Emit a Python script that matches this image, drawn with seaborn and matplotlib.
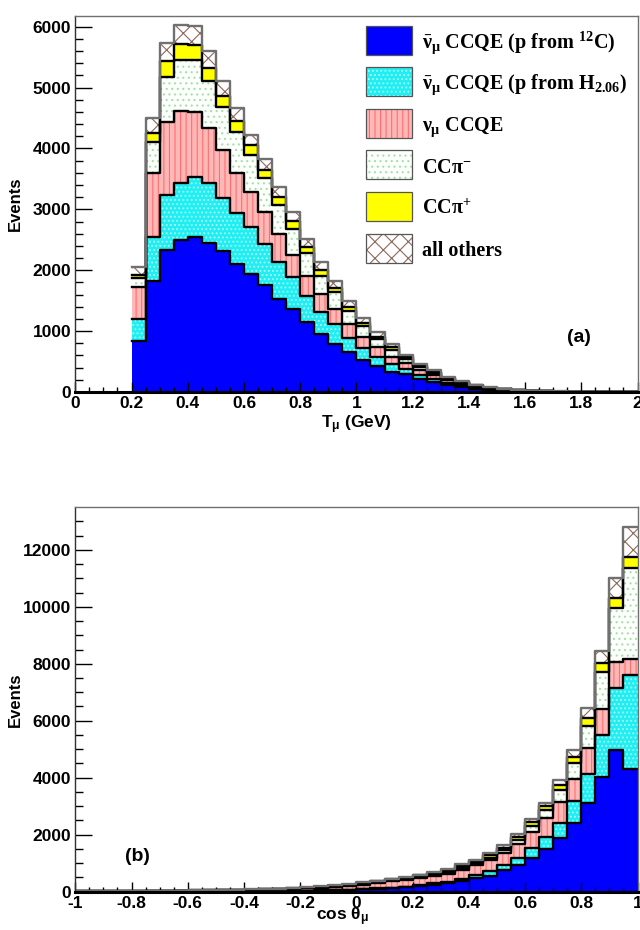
import numpy as np
import pandas as pd
import matplotlib
matplotlib.use("Agg")
import matplotlib.pyplot as plt
import seaborn as sns
from matplotlib.patches import Rectangle
from matplotlib.ticker import MultipleLocator, FuncFormatter

# ---------------- data ----------------
components = ["nubar_C", "nubar_H", "nu_CCQE", "CCpim", "CCpip", "others"]
legend_labels = [
    r"$\bar{\nu}_{\mu}$ CCQE (p from $^{12}$C)",
    r"$\bar{\nu}_{\mu}$ CCQE (p from H$_{2.06}$)",
    r"$\nu_{\mu}$ CCQE",
    r"CC$\pi^{-}$",
    r"CC$\pi^{+}$",
    "all others",
]

# (a) muon kinetic energy, lower bin edges (GeV), bin width 0.05
t_mu_bins = [0.20, 0.25, 0.30, 0.35, 0.40, 0.45, 0.50, 0.55, 0.60, 0.65,
             0.70, 0.75, 0.80, 0.85, 0.90, 0.95, 1.00, 1.05, 1.10, 1.15,
             1.20, 1.25, 1.30, 1.35, 1.40, 1.45, 1.50, 1.55, 1.60, 1.65,
             1.70, 1.75, 1.80, 1.85, 1.90, 1.95]
a_nubar_c = [845, 1829, 2339, 2493, 2543, 2449, 2311, 2103, 1939, 1751,
             1532, 1362, 1142, 955, 791, 659, 527, 434, 335, 290,
             216, 170, 118, 85, 54, 36, 26, 15, 10, 7, 4, 3, 2, 1, 1, 1]
a_nubar_h = [352, 719, 895, 944, 993, 988, 879, 841, 774, 682,
             605, 527, 440, 352, 329, 231, 198, 148, 126, 84,
             64, 50, 35, 25, 16, 11, 8, 5, 3, 2, 1, 1, 1, 0, 0, 0]
a_nu_ccqe = [522, 1055, 1203, 1181, 1055, 907, 785, 659, 577, 521,
             450, 368, 329, 307, 242, 230, 176, 154, 121, 99,
             74, 58, 40, 29, 18, 12, 9, 5, 4, 2, 2, 1, 1, 1, 0, 0]
a_ccpim = [154, 505, 730, 835, 862, 769, 698, 669, 603, 560,
           489, 428, 374, 297, 274, 203, 175, 132, 110, 66,
           51, 40, 28, 20, 13, 8, 6, 4, 2, 1, 1, 1, 0, 0, 0, 0]
a_ccpip = [55, 148, 265, 269, 247, 208, 192, 171, 160, 132,
           131, 121, 93, 87, 66, 72, 55, 43, 44, 33,
           23, 18, 13, 9, 6, 4, 3, 2, 1, 1, 0, 0, 0, 0, 0, 0]
a_others = [120, 247, 301, 312, 308, 275, 242, 219, 176, 176,
            159, 148, 143, 132, 115, 93, 77, 72, 55, 36,
            32, 25, 18, 12, 8, 6, 3, 2, 2, 1, 1, 0, 0, 1, 1, 0]

# (b) cos(theta_mu), lower bin edges, bin width 0.05
cos_bins = [-1.00, -0.95, -0.90, -0.85, -0.80, -0.75, -0.70, -0.65, -0.60, -0.55,
            -0.50, -0.45, -0.40, -0.35, -0.30, -0.25, -0.20, -0.15, -0.10, -0.05,
            0.00, 0.05, 0.10, 0.15, 0.20, 0.25, 0.30, 0.35, 0.40, 0.45,
            0.50, 0.55, 0.60, 0.65, 0.70, 0.75, 0.80, 0.85, 0.90, 0.95]
b_nubar_c = [4, 4, 5, 5, 6, 7, 7, 8, 10, 11, 13, 14, 16, 19, 22, 26, 31, 37, 45, 55,
             80, 100, 125, 153, 199, 250, 300, 370, 470, 565,
             750, 937, 1193, 1488, 1874, 2421, 3123, 4035, 4972, 4294]
b_nubar_h = [1, 1, 1, 1, 1, 1, 1, 1, 1, 2, 2, 2, 2, 3, 3, 4, 5, 6, 7, 9,
             12, 15, 16, 23, 26, 44, 51, 90, 100, 172,
             187, 235, 330, 421, 547, 772, 1007, 1463, 2164, 3310]
b_nu_ccqe = [9, 10, 11, 13, 14, 16, 18, 21, 24, 27, 31, 36, 41, 47, 55, 65, 77, 92, 113, 136,
             153, 180, 219, 224, 255, 266, 285, 300, 350, 383,
             423, 491, 582, 666, 737, 751, 902, 913, 913, 550]
b_ccpim = [1, 2, 2, 2, 3, 3, 4, 4, 4, 5, 6, 7, 8, 9, 10, 12, 14, 17, 20, 25,
           30, 33, 36, 40, 44, 48, 52, 62, 72, 80,
           110, 151, 200, 292, 410, 561, 793, 1287, 1916, 3214]
b_ccpip = [2, 2, 2, 3, 3, 3, 4, 4, 5, 5, 6, 7, 8, 9, 10, 12, 14, 17, 20, 25,
           30, 35, 38, 42, 45, 50, 55, 65, 75, 80,
           80, 95, 130, 140, 176, 232, 259, 327, 351, 365]
b_others = [1, 1, 2, 2, 2, 3, 3, 4, 4, 5, 5, 6, 7, 8, 10, 11, 14, 16, 20, 20,
            25, 25, 22, 26, 26, 36, 47, 70, 60, 85,
            100, 105, 105, 116, 175, 235, 351, 431, 680, 1074]

BIN_W = 0.05

# ---------------- style ----------------
fill_colors = {"nubar_C": "#0000ff", "nubar_H": "#22eef2", "nu_CCQE": "#ffb8b8",
               "CCpim": "#fdfffd", "CCpip": "#ffff00", "others": "#fffdfd"}
hatch_styles = {"nubar_C": None, "nubar_H": "....", "nu_CCQE": "|||",
                "CCpim": "...", "CCpip": None, "others": "xx"}
hatch_colors = {"nubar_C": "#0000ff", "nubar_H": "#a8ffff", "nu_CCQE": "#ff6e6e",
                "CCpim": "#a6e0a6", "CCpip": "#ffff00", "others": "#8a6a5c"}
line_colors = {"nubar_C": "#000000", "nubar_H": "#000000", "nu_CCQE": "#000000",
               "CCpim": "#000000", "CCpip": "#000000", "others": "#707070"}
# seaborn stacks the first hue level on top, so list from top layer to bottom layer
stack_order = components[::-1]

plt.rcParams["font.family"] = ["Liberation Sans", "DejaVu Sans"]
plt.rcParams["font.weight"] = "bold"
plt.rcParams["axes.unicode_minus"] = False
plt.rcParams["mathtext.fontset"] = "custom"
plt.rcParams["mathtext.rm"] = "Liberation Serif:bold"
plt.rcParams["mathtext.it"] = "Liberation Serif:bold"
plt.rcParams["mathtext.bf"] = "Liberation Serif:bold"
plt.rcParams["mathtext.sf"] = "Liberation Sans"
plt.rcParams["hatch.linewidth"] = 0.8


def make_df(lower, series):
    rows = []
    for name, vals in zip(components, series):
        for lo, v in zip(lower, vals):
            rows.append({"x": lo + BIN_W / 2, "w": v, "comp": name})
    return pd.DataFrame(rows)


def draw_stack(ax, lower, series):
    df = make_df(lower, series)
    edges = list(lower) + [lower[-1] + BIN_W]
    n_before = len(ax.collections)
    sns.histplot(data=df, x="x", weights="w", hue="comp", hue_order=stack_order,
                 bins=edges, multiple="stack", element="step", fill=True,
                 palette=fill_colors, alpha=1, linewidth=0, legend=False, ax=ax)
    lookup = {tuple(np.round(matplotlib.colors.to_rgba(c), 4)): k
              for k, c in fill_colors.items()}
    for coll in ax.collections[n_before:]:
        key = lookup.get(tuple(np.round(coll.get_facecolor()[0], 4)))
        if key is None:
            continue
        coll.set_edgecolor(hatch_colors[key])
        coll.set_linewidth(0)
        if hatch_styles[key]:
            coll.set_hatch(hatch_styles[key])
        coll.set_zorder(1)
    sns.histplot(data=df, x="x", weights="w", hue="comp", hue_order=stack_order,
                 bins=edges, multiple="stack", element="step", fill=False,
                 palette=line_colors, linewidth=1.7, legend=False, ax=ax)
    for ln in ax.lines:
        ln.set_zorder(2)


def style_axes(ax, xlim, ylim, xmajor, ymajor, yminor):
    ax.set_xlim(*xlim)
    ax.set_ylim(*ylim)
    ax.xaxis.set_major_locator(MultipleLocator(xmajor))
    ax.xaxis.set_minor_locator(MultipleLocator(0.05))
    ax.yaxis.set_major_locator(MultipleLocator(ymajor))
    ax.yaxis.set_minor_locator(MultipleLocator(yminor))
    ax.xaxis.set_major_formatter(FuncFormatter(lambda v, p: f"{round(v, 2):g}"))
    ax.yaxis.set_major_formatter(FuncFormatter(lambda v, p: f"{int(round(v))}"))
    ax.tick_params(axis="y", which="major", direction="in", length=12, width=1.0,
                   labelsize=12.5, pad=3, right=False)
    ax.tick_params(axis="y", which="minor", direction="in", length=6, width=1.0, right=False)
    ax.tick_params(axis="x", which="major", direction="in", length=7.5, width=1.0,
                   labelsize=12.5, pad=3, top=False)
    ax.tick_params(axis="x", which="minor", direction="in", length=3.8, width=1.0, top=False)
    for lab in ax.get_xticklabels() + ax.get_yticklabels():
        lab.set_fontweight("bold")
    ax.spines["bottom"].set_linewidth(2.2)
    ax.spines["bottom"].set_color("black")
    ax.spines["left"].set_linewidth(1.0)
    ax.spines["left"].set_color("#303030")
    ax.spines["top"].set_linewidth(1.0)
    ax.spines["top"].set_color("#707070")
    ax.spines["right"].set_linewidth(1.0)
    ax.spines["right"].set_color("#707070")
    for s in ax.spines.values():
        s.set_zorder(5)


fig = plt.figure(figsize=(6.4, 9.3), dpi=100)
ax_a = fig.add_axes([0.1177, 0.5785, 0.8784, 0.4046])
ax_b = fig.add_axes([0.1177, 0.04118, 0.8784, 0.4133])

draw_stack(ax_a, t_mu_bins, [a_nubar_c, a_nubar_h, a_nu_ccqe, a_ccpim, a_ccpip, a_others])
draw_stack(ax_b, cos_bins, [b_nubar_c, b_nubar_h, b_nu_ccqe, b_ccpim, b_ccpip, b_others])

style_axes(ax_a, (0, 2), (0, 6180), 0.2, 1000, 200)
style_axes(ax_b, (-1, 1), (0, 13490), 0.2, 2000, 500)

for ax in (ax_a, ax_b):
    ax.set_ylabel("Events", fontsize=12, fontweight="bold")
    ax.yaxis.set_label_coords(-0.093, 0.5)

ax_a.set_xlabel(r"T$_{\mathsf{\mu}}$ (GeV)", fontsize=12.5, fontweight="bold")
ax_a.xaxis.set_label_coords(0.50, -0.058)
ax_b.set_xlabel(r"cos θ$_{\mathsf{\mu}}$", fontsize=12.5, fontweight="bold")
ax_b.xaxis.set_label_coords(0.475, -0.036)

fig.text(579 / 640, 1 - 337 / 930, "(a)", fontsize=14, fontweight="bold",
         ha="center", va="center")
fig.text(137 / 640, 1 - 856 / 930, "(b)", fontsize=14, fontweight="bold",
         ha="center", va="center")

# legend (drawn as boxes + labels in figure pixels)
W, H = 640.0, 930.0
box_left, box_top0, box_w, box_h, row_step = 365.7, 25.7, 46.0, 29.0, 41.6
for i, k in enumerate(components):
    top = box_top0 + row_step * i
    fig.add_artist(Rectangle((box_left / W, 1 - (top + box_h) / H), box_w / W, box_h / H,
                             transform=fig.transFigure, facecolor=fill_colors[k],
                             edgecolor=hatch_colors[k], hatch=hatch_styles[k],
                             linewidth=0, zorder=6))
    fig.add_artist(Rectangle((box_left / W, 1 - (top + box_h) / H), box_w / W, box_h / H,
                             transform=fig.transFigure, facecolor="none",
                             edgecolor="#555555", linewidth=0.9, zorder=7))
    fig.text(421.7 / W, 1 - (top + 22.0) / H, legend_labels[i], fontsize=14.5,
             family="Liberation Serif", fontweight="bold", ha="left", va="baseline",
             zorder=7)

fig.savefig("out.png", dpi=100)
